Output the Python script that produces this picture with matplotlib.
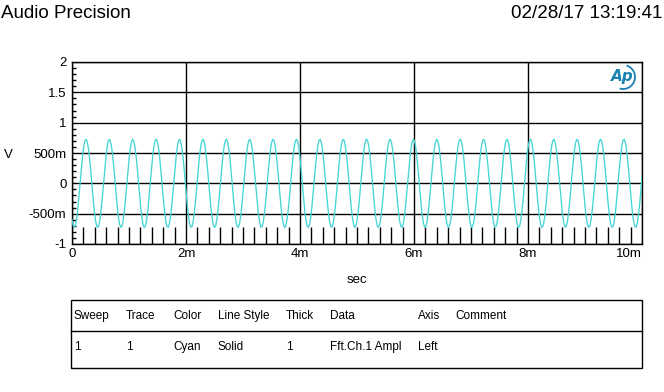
import numpy as np
import matplotlib
matplotlib.use("Agg")
import matplotlib.pyplot as plt
from matplotlib.patches import Rectangle, Arc
from matplotlib.ticker import MultipleLocator, FixedLocator
from matplotlib.lines import Line2D

plt.rcParams['font.family'] = ['Liberation Sans', 'DejaVu Sans']

# ---- data ----
sweep_ms = (0.0, 10.0)           # x range in ms
sample_rate_hz = 48000           # trace sampling
signal_freq_hz = 2437.0          # sine frequency (23.8 cycles in 10 ms)
signal_amp_v = 0.728             # peak amplitude
first_peak_ms = 0.245            # time of first peak
x_ticks_ms = [0, 2, 4, 6, 8, 10]
x_tick_labels = ["0", "2m", "4m", "6m", "8m", "10m"]
y_ticks = [-1, -0.5, 0, 0.5, 1, 1.5, 2]
y_tick_labels = ["-1", "-500m", "0", "500m", "1", "1.5", "2"]
table_headers = ["Sweep", "Trace", "Color", "Line Style", "Thick", "Data", "Axis", "Comment"]
table_row = ["1", "1", "Cyan", "Solid", "1", "Fft.Ch.1 Ampl", "Left", ""]

t_ms = np.arange(0, int(sweep_ms[1] * sample_rate_hz / 1000) + 1) * 1000.0 / sample_rate_hz
volts = signal_amp_v * np.cos(2 * np.pi * signal_freq_hz * (t_ms - first_peak_ms) / 1000.0)

W, H = 664, 392
fig = plt.figure(figsize=(W / 100, H / 100), dpi=100)

L, R, T, B = 72, 642, 62, 244
ax = fig.add_axes([L / W, 1 - B / H, (R - L) / W, (B - T) / H])
ax.plot(t_ms, volts, color='#45d5d5', lw=0.95, zorder=3)
ax.set_xlim(*sweep_ms)
ax.set_ylim(-1, 2)

ax.xaxis.set_major_locator(FixedLocator(x_ticks_ms))
ax.set_xticklabels(x_tick_labels)
ax.yaxis.set_major_locator(FixedLocator(y_ticks))
ax.set_yticklabels(y_tick_labels)
ax.xaxis.set_minor_locator(MultipleLocator(0.2))
ax.yaxis.set_minor_locator(MultipleLocator(0.1))
ax.tick_params(axis='both', which='major', length=0, labelsize=9.5, colors='black', pad=3)
ax.tick_params(axis='x', which='minor', direction='in', length=12.5, width=1, color='black')
ax.tick_params(axis='y', which='minor', direction='in', length=3, width=1, color='black')
ax.tick_params(axis='y', which='major', pad=4)
labs = ax.get_xticklabels()
labs[-1].set_horizontalalignment('right')
labs[0].set_horizontalalignment('center')

ax.grid(True, which='major', color='black', lw=1.0, zorder=2)
for s in ax.spines.values():
    s.set_color('black')
    s.set_linewidth(1.0)

# axis labels
fig.text(8 / W, 1 - 155 / H, "V", ha='center', va='center', fontsize=9.5)
fig.text(357 / W, 1 - 280 / H, "sec", ha='center', va='center', fontsize=9.5)

# header
fig.text(1 / W, 1 - 13 / H, "Audio Precision", ha='left', va='center', fontsize=13.5)
fig.text(662 / W, 1 - 13 / H, "02/28/17 13:19:41", ha='right', va='center', fontsize=13.5)

# logo
logo_c = '#1a80b0'
fig.text(622 / W, 1 - 77 / H, "Ap", ha='center', va='center', fontsize=11,
         style='italic', weight='bold', color=logo_c, family=['DejaVu Sans'])
arc = Arc((623 / W, 1 - 77 / H), 24 / W, 24 / H, theta1=-100, theta2=80,
          transform=fig.transFigure, color=logo_c, lw=1.3)
fig.patches.append(arc)

# table
tl, tr, tt, tb, tm = 71, 642, 300, 368, 331
fig.patches.append(Rectangle((tl / W, 1 - tb / H), (tr - tl) / W, (tb - tt) / H,
                             transform=fig.transFigure, fill=False, ec='black', lw=1))
fig.lines.append(Line2D([tl / W, tr / W], [1 - tm / H, 1 - tm / H],
                        transform=fig.transFigure, color='black', lw=1))
col_x = [74, 126, 173, 218, 286, 330, 418, 455]
for x, h, v in zip(col_x, table_headers, table_row):
    fig.text(x / W, 1 - 316 / H, h, ha='left', va='center', fontsize=8.5)
    if v:
        fig.text(x / W, 1 - 347 / H, v, ha='left', va='center', fontsize=8.5)

fig.savefig("out.png", dpi=100, facecolor='white')
